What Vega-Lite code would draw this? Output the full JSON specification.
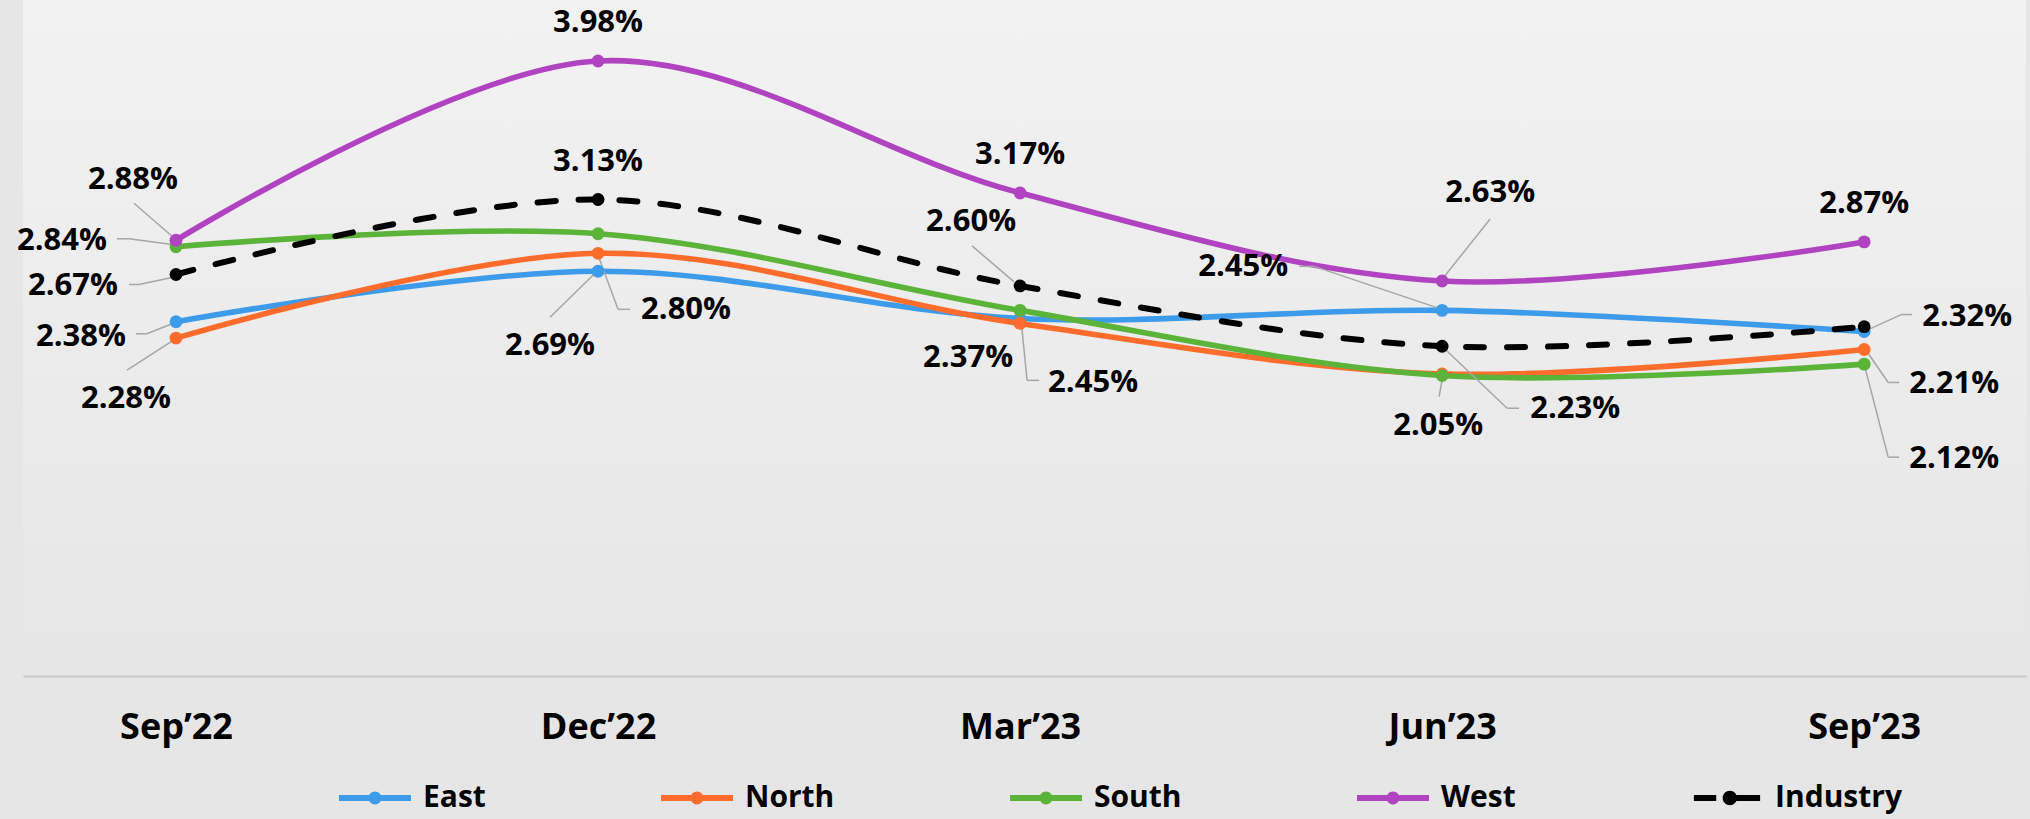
{
 "$schema": "https://vega.github.io/schema/vega-lite/v6.json",
 "width": 2003,
 "height": 676,
 "autosize": {"type": "none"},
 "padding": {"left": 23, "top": 0, "right": 4, "bottom": 143},
 "background": "#e6e6e6",
 "view": {"stroke": null, "fill": {"gradient": "linear", "x1": 0, "y1": 0, "x2": 0, "y2": 1, "stops": [{"offset": 0, "color": "#f2f2f2"}, {"offset": 1, "color": "#e6e6e6"}]}},
 "config": {"font": "Open Sans"},
 "data": {"values": [
  {"month": "Sep’22", "region": "East", "value": 0.0238},
  {"month": "Sep’22", "region": "North", "value": 0.0228},
  {"month": "Sep’22", "region": "South", "value": 0.0284},
  {"month": "Sep’22", "region": "West", "value": 0.0288},
  {"month": "Sep’22", "region": "Industry", "value": 0.0267},
  {"month": "Dec’22", "region": "East", "value": 0.0269},
  {"month": "Dec’22", "region": "North", "value": 0.0280},
  {"month": "Dec’22", "region": "South", "value": 0.0292},
  {"month": "Dec’22", "region": "West", "value": 0.0398},
  {"month": "Dec’22", "region": "Industry", "value": 0.0313},
  {"month": "Mar’23", "region": "East", "value": 0.0240},
  {"month": "Mar’23", "region": "North", "value": 0.0237},
  {"month": "Mar’23", "region": "South", "value": 0.0245},
  {"month": "Mar’23", "region": "West", "value": 0.0317},
  {"month": "Mar’23", "region": "Industry", "value": 0.0260},
  {"month": "Jun’23", "region": "East", "value": 0.0245},
  {"month": "Jun’23", "region": "North", "value": 0.0206},
  {"month": "Jun’23", "region": "South", "value": 0.0205},
  {"month": "Jun’23", "region": "West", "value": 0.0263},
  {"month": "Jun’23", "region": "Industry", "value": 0.0223},
  {"month": "Sep’23", "region": "East", "value": 0.0232},
  {"month": "Sep’23", "region": "North", "value": 0.0221},
  {"month": "Sep’23", "region": "South", "value": 0.0212},
  {"month": "Sep’23", "region": "West", "value": 0.0287},
  {"month": "Sep’23", "region": "Industry", "value": 0.0235}
 ]},
 "encoding": {
  "x": {"field": "month", "type": "ordinal", "sort": ["Sep’22", "Dec’22", "Mar’23", "Jun’23", "Sep’23"],
        "scale": {"type": "point", "padding": 0.373, "align": 0.486},
        "axis": {"title": null, "labelAngle": 0, "ticks": false, "grid": false, "domainColor": "#c9c9c9", "domainWidth": 2,
                 "labelFont": "Open Sans", "labelFontSize": 36, "labelFontWeight": "bold", "labelColor": "#000000", "labelPadding": 34}},
  "y": {"field": "value", "type": "quantitative", "scale": {"domain": [0.00207, 0.04354], "nice": false, "zero": false}, "axis": null}
 },
 "layer": [
  {"transform": [{"filter": "datum.region!=='Industry'"}],
   "mark": {"type": "line", "interpolate": "catmull-rom", "strokeWidth": 5.6},
   "encoding": {"order": {"value": null}, "stroke": {"field": "region", "type": "nominal",
     "scale": {"domain": ["East", "North", "South", "West"], "range": ["#3d9be9", "#ff6b2c", "#5bb339", "#b043c0"]}, "legend": null}}},
  {"transform": [{"filter": "datum.region==='Industry'"}],
   "mark": {"type": "line", "interpolate": "catmull-rom", "strokeWidth": 6, "stroke": "#000000", "strokeDash": [18, 23], "strokeCap": "round"},
   "encoding": {"order": {"value": null}}},

  {"transform": [{"filter": "datum.region==='West'&&datum.month==='Sep’22'"}], "mark": {"type": "rule", "stroke": "#a6a6a6", "strokeWidth": 1.5, "xOffset": -42, "yOffset": -37, "x2Offset": -4, "y2Offset": -4}, "encoding": {"x2": {"field": "month"}, "y2": {"field": "value"}}},
  {"transform": [{"filter": "datum.region==='South'&&datum.month==='Sep’22'"}], "mark": {"type": "rule", "stroke": "#a6a6a6", "strokeWidth": 1.5, "xOffset": -59, "yOffset": -8, "x2Offset": -47, "y2Offset": -8}, "encoding": {"x2": {"field": "month"}, "y2": {"field": "value"}}},
  {"transform": [{"filter": "datum.region==='South'&&datum.month==='Sep’22'"}], "mark": {"type": "rule", "stroke": "#a6a6a6", "strokeWidth": 1.5, "xOffset": -47, "yOffset": -8, "x2Offset": -2, "y2Offset": -2}, "encoding": {"x2": {"field": "month"}, "y2": {"field": "value"}}},
  {"transform": [{"filter": "datum.region==='Industry'&&datum.month==='Sep’22'"}], "mark": {"type": "rule", "stroke": "#a6a6a6", "strokeWidth": 1.5, "xOffset": -47, "yOffset": 10, "x2Offset": -37, "y2Offset": 10}, "encoding": {"x2": {"field": "month"}, "y2": {"field": "value"}}},
  {"transform": [{"filter": "datum.region==='Industry'&&datum.month==='Sep’22'"}], "mark": {"type": "rule", "stroke": "#a6a6a6", "strokeWidth": 1.5, "xOffset": -37, "yOffset": 10, "x2Offset": -4, "y2Offset": 3}, "encoding": {"x2": {"field": "month"}, "y2": {"field": "value"}}},
  {"transform": [{"filter": "datum.region==='East'&&datum.month==='Sep’22'"}], "mark": {"type": "rule", "stroke": "#a6a6a6", "strokeWidth": 1.5, "xOffset": -40, "yOffset": 12, "x2Offset": -29, "y2Offset": 12}, "encoding": {"x2": {"field": "month"}, "y2": {"field": "value"}}},
  {"transform": [{"filter": "datum.region==='East'&&datum.month==='Sep’22'"}], "mark": {"type": "rule", "stroke": "#a6a6a6", "strokeWidth": 1.5, "xOffset": -29, "yOffset": 12, "x2Offset": -4, "y2Offset": 2}, "encoding": {"x2": {"field": "month"}, "y2": {"field": "value"}}},
  {"transform": [{"filter": "datum.region==='North'&&datum.month==='Sep’22'"}], "mark": {"type": "rule", "stroke": "#a6a6a6", "strokeWidth": 1.5, "xOffset": -49, "yOffset": 32, "x2Offset": -4, "y2Offset": 3}, "encoding": {"x2": {"field": "month"}, "y2": {"field": "value"}}},
  {"transform": [{"filter": "datum.region==='North'&&datum.month==='Dec’22'"}], "mark": {"type": "rule", "stroke": "#a6a6a6", "strokeWidth": 1.5, "xOffset": 0, "yOffset": 2, "x2Offset": 20, "y2Offset": 56}, "encoding": {"x2": {"field": "month"}, "y2": {"field": "value"}}},
  {"transform": [{"filter": "datum.region==='North'&&datum.month==='Dec’22'"}], "mark": {"type": "rule", "stroke": "#a6a6a6", "strokeWidth": 1.5, "xOffset": 20, "yOffset": 56, "x2Offset": 32, "y2Offset": 56}, "encoding": {"x2": {"field": "month"}, "y2": {"field": "value"}}},
  {"transform": [{"filter": "datum.region==='East'&&datum.month==='Dec’22'"}], "mark": {"type": "rule", "stroke": "#a6a6a6", "strokeWidth": 1.5, "xOffset": -48, "yOffset": 46, "x2Offset": -2, "y2Offset": 1}, "encoding": {"x2": {"field": "month"}, "y2": {"field": "value"}}},
  {"transform": [{"filter": "datum.region==='Industry'&&datum.month==='Mar’23'"}], "mark": {"type": "rule", "stroke": "#a6a6a6", "strokeWidth": 1.5, "xOffset": -48, "yOffset": -40, "x2Offset": -6, "y2Offset": -4}, "encoding": {"x2": {"field": "month"}, "y2": {"field": "value"}}},
  {"transform": [{"filter": "datum.region==='South'&&datum.month==='Mar’23'"}], "mark": {"type": "rule", "stroke": "#a6a6a6", "strokeWidth": 1.5, "xOffset": 0, "yOffset": 0, "x2Offset": 7, "y2Offset": 70}, "encoding": {"x2": {"field": "month"}, "y2": {"field": "value"}}},
  {"transform": [{"filter": "datum.region==='South'&&datum.month==='Mar’23'"}], "mark": {"type": "rule", "stroke": "#a6a6a6", "strokeWidth": 1.5, "xOffset": 7, "yOffset": 70, "x2Offset": 19, "y2Offset": 70}, "encoding": {"x2": {"field": "month"}, "y2": {"field": "value"}}},
  {"transform": [{"filter": "datum.region==='West'&&datum.month==='Jun’23'"}], "mark": {"type": "rule", "stroke": "#a6a6a6", "strokeWidth": 1.5, "xOffset": 48, "yOffset": -62, "x2Offset": 1, "y2Offset": -3}, "encoding": {"x2": {"field": "month"}, "y2": {"field": "value"}}},
  {"transform": [{"filter": "datum.region==='East'&&datum.month==='Jun’23'"}], "mark": {"type": "rule", "stroke": "#a6a6a6", "strokeWidth": 1.5, "xOffset": -143, "yOffset": -44, "x2Offset": -128, "y2Offset": -44}, "encoding": {"x2": {"field": "month"}, "y2": {"field": "value"}}},
  {"transform": [{"filter": "datum.region==='East'&&datum.month==='Jun’23'"}], "mark": {"type": "rule", "stroke": "#a6a6a6", "strokeWidth": 1.5, "xOffset": -128, "yOffset": -44, "x2Offset": -3, "y2Offset": -2}, "encoding": {"x2": {"field": "month"}, "y2": {"field": "value"}}},
  {"transform": [{"filter": "datum.region==='Industry'&&datum.month==='Jun’23'"}], "mark": {"type": "rule", "stroke": "#a6a6a6", "strokeWidth": 1.5, "xOffset": 3, "yOffset": 3, "x2Offset": 65, "y2Offset": 62}, "encoding": {"x2": {"field": "month"}, "y2": {"field": "value"}}},
  {"transform": [{"filter": "datum.region==='Industry'&&datum.month==='Jun’23'"}], "mark": {"type": "rule", "stroke": "#a6a6a6", "strokeWidth": 1.5, "xOffset": 65, "yOffset": 62, "x2Offset": 77, "y2Offset": 62}, "encoding": {"x2": {"field": "month"}, "y2": {"field": "value"}}},
  {"transform": [{"filter": "datum.region==='South'&&datum.month==='Jun’23'"}], "mark": {"type": "rule", "stroke": "#a6a6a6", "strokeWidth": 1.5, "xOffset": 0, "yOffset": 4, "x2Offset": -3, "y2Offset": 21}, "encoding": {"x2": {"field": "month"}, "y2": {"field": "value"}}},
  {"transform": [{"filter": "datum.region==='East'&&datum.month==='Sep’23'"}], "mark": {"type": "rule", "stroke": "#a6a6a6", "strokeWidth": 1.5, "xOffset": 2, "yOffset": -1, "x2Offset": 37, "y2Offset": -17}, "encoding": {"x2": {"field": "month"}, "y2": {"field": "value"}}},
  {"transform": [{"filter": "datum.region==='East'&&datum.month==='Sep’23'"}], "mark": {"type": "rule", "stroke": "#a6a6a6", "strokeWidth": 1.5, "xOffset": 37, "yOffset": -17, "x2Offset": 48, "y2Offset": -17}, "encoding": {"x2": {"field": "month"}, "y2": {"field": "value"}}},
  {"transform": [{"filter": "datum.region==='North'&&datum.month==='Sep’23'"}], "mark": {"type": "rule", "stroke": "#a6a6a6", "strokeWidth": 1.5, "xOffset": 2, "yOffset": 1, "x2Offset": 24, "y2Offset": 33}, "encoding": {"x2": {"field": "month"}, "y2": {"field": "value"}}},
  {"transform": [{"filter": "datum.region==='North'&&datum.month==='Sep’23'"}], "mark": {"type": "rule", "stroke": "#a6a6a6", "strokeWidth": 1.5, "xOffset": 24, "yOffset": 33, "x2Offset": 35, "y2Offset": 33}, "encoding": {"x2": {"field": "month"}, "y2": {"field": "value"}}},
  {"transform": [{"filter": "datum.region==='South'&&datum.month==='Sep’23'"}], "mark": {"type": "rule", "stroke": "#a6a6a6", "strokeWidth": 1.5, "xOffset": 1, "yOffset": 4, "x2Offset": 24, "y2Offset": 93}, "encoding": {"x2": {"field": "month"}, "y2": {"field": "value"}}},
  {"transform": [{"filter": "datum.region==='South'&&datum.month==='Sep’23'"}], "mark": {"type": "rule", "stroke": "#a6a6a6", "strokeWidth": 1.5, "xOffset": 24, "yOffset": 93, "x2Offset": 35, "y2Offset": 93}, "encoding": {"x2": {"field": "month"}, "y2": {"field": "value"}}},

  {"mark": {"type": "point", "filled": true, "opacity": 1, "size": 165, "strokeWidth": 0},
   "encoding": {"fill": {"field": "region", "type": "nominal",
     "scale": {"domain": ["East", "North", "South", "West", "Industry"], "range": ["#3d9be9", "#ff6b2c", "#5bb339", "#b043c0", "#000000"]},
     "legend": {"orient": "none", "legendX": 316, "legendY": 762, "direction": "horizontal", "title": null, "padding": 0,
       "symbolSize": 5184, "symbolOpacity": 1, "symbolStrokeWidth": 0,
       "labelFont": "Open Sans", "labelFontSize": 30, "labelFontWeight": "bold", "labelColor": "#000000", "labelOffset": 12, "labelBaseline": "middle",
       "columnPadding": 175,
       "encode": {"symbols": {"update": {"shape": {"signal": "datum.value === 'Industry' ? 'M-0.92,-0.085L-0.3,-0.085L-0.3,0.085L-0.92,0.085ZM0.1,-0.085L0.92,-0.085L0.92,0.085L0.1,0.085ZM0.28,0A0.2,0.2,0,1,1,-0.12,0A0.2,0.2,0,1,1,0.28,0Z' : 'M-1,-0.08L1,-0.08L1,0.08L-1,0.08ZM0.18,0A0.18,0.18,0,1,1,-0.18,0A0.18,0.18,0,1,1,0.18,0Z'"}}}}}}}},

  {"transform": [{"filter": "datum.region==='West'&&datum.month==='Sep’22'"}], "mark": {"type": "text", "dx": -43, "dy": -60, "fontSize": 31, "fontWeight": "bold", "font": "Open Sans", "fill": "#000000", "baseline": "middle", "align": "center"}, "encoding": {"text": {"field": "value", "format": ".2%"}}},
  {"transform": [{"filter": "datum.region==='South'&&datum.month==='Sep’22'"}], "mark": {"type": "text", "dx": -114, "dy": -6, "fontSize": 31, "fontWeight": "bold", "font": "Open Sans", "fill": "#000000", "baseline": "middle", "align": "center"}, "encoding": {"text": {"field": "value", "format": ".2%"}}},
  {"transform": [{"filter": "datum.region==='Industry'&&datum.month==='Sep’22'"}], "mark": {"type": "text", "dx": -103, "dy": 11, "fontSize": 31, "fontWeight": "bold", "font": "Open Sans", "fill": "#000000", "baseline": "middle", "align": "center"}, "encoding": {"text": {"field": "value", "format": ".2%"}}},
  {"transform": [{"filter": "datum.region==='East'&&datum.month==='Sep’22'"}], "mark": {"type": "text", "dx": -95, "dy": 15, "fontSize": 31, "fontWeight": "bold", "font": "Open Sans", "fill": "#000000", "baseline": "middle", "align": "center"}, "encoding": {"text": {"field": "value", "format": ".2%"}}},
  {"transform": [{"filter": "datum.region==='North'&&datum.month==='Sep’22'"}], "mark": {"type": "text", "dx": -50, "dy": 61, "fontSize": 31, "fontWeight": "bold", "font": "Open Sans", "fill": "#000000", "baseline": "middle", "align": "center"}, "encoding": {"text": {"field": "value", "format": ".2%"}}},
  {"transform": [{"filter": "(datum.region==='West'&&(datum.month==='Dec’22'||datum.month==='Mar’23'||datum.month==='Sep’23'))||(datum.region==='Industry'&&datum.month==='Dec’22')"}], "mark": {"type": "text", "dx": 0, "dy": -38, "fontSize": 31, "fontWeight": "bold", "font": "Open Sans", "fill": "#000000", "baseline": "middle", "align": "center"}, "encoding": {"text": {"field": "value", "format": ".2%"}}},
  {"transform": [{"filter": "datum.region==='North'&&datum.month==='Dec’22'"}], "mark": {"type": "text", "dx": 88, "dy": 57, "fontSize": 31, "fontWeight": "bold", "font": "Open Sans", "fill": "#000000", "baseline": "middle", "align": "center"}, "encoding": {"text": {"field": "value", "format": ".2%"}}},
  {"transform": [{"filter": "datum.region==='East'&&datum.month==='Dec’22'"}], "mark": {"type": "text", "dx": -48, "dy": 75, "fontSize": 31, "fontWeight": "bold", "font": "Open Sans", "fill": "#000000", "baseline": "middle", "align": "center"}, "encoding": {"text": {"field": "value", "format": ".2%"}}},
  {"transform": [{"filter": "datum.region==='Industry'&&datum.month==='Mar’23'"}], "mark": {"type": "text", "dx": -49, "dy": -64, "fontSize": 31, "fontWeight": "bold", "font": "Open Sans", "fill": "#000000", "baseline": "middle", "align": "center"}, "encoding": {"text": {"field": "value", "format": ".2%"}}},
  {"transform": [{"filter": "datum.region==='North'&&datum.month==='Mar’23'"}], "mark": {"type": "text", "dx": -52, "dy": 35, "fontSize": 31, "fontWeight": "bold", "font": "Open Sans", "fill": "#000000", "baseline": "middle", "align": "center"}, "encoding": {"text": {"field": "value", "format": ".2%"}}},
  {"transform": [{"filter": "datum.region==='South'&&datum.month==='Mar’23'"}], "mark": {"type": "text", "dx": 73, "dy": 73, "fontSize": 31, "fontWeight": "bold", "font": "Open Sans", "fill": "#000000", "baseline": "middle", "align": "center"}, "encoding": {"text": {"field": "value", "format": ".2%"}}},
  {"transform": [{"filter": "datum.region==='West'&&datum.month==='Jun’23'"}], "mark": {"type": "text", "dx": 48, "dy": -88, "fontSize": 31, "fontWeight": "bold", "font": "Open Sans", "fill": "#000000", "baseline": "middle", "align": "center"}, "encoding": {"text": {"field": "value", "format": ".2%"}}},
  {"transform": [{"filter": "datum.region==='East'&&datum.month==='Jun’23'"}], "mark": {"type": "text", "dx": -199, "dy": -43, "fontSize": 31, "fontWeight": "bold", "font": "Open Sans", "fill": "#000000", "baseline": "middle", "align": "center"}, "encoding": {"text": {"field": "value", "format": ".2%"}}},
  {"transform": [{"filter": "datum.region==='Industry'&&datum.month==='Jun’23'"}], "mark": {"type": "text", "dx": 133, "dy": 63, "fontSize": 31, "fontWeight": "bold", "font": "Open Sans", "fill": "#000000", "baseline": "middle", "align": "center"}, "encoding": {"text": {"field": "value", "format": ".2%"}}},
  {"transform": [{"filter": "datum.region==='South'&&datum.month==='Jun’23'"}], "mark": {"type": "text", "dx": -4, "dy": 50, "fontSize": 31, "fontWeight": "bold", "font": "Open Sans", "fill": "#000000", "baseline": "middle", "align": "center"}, "encoding": {"text": {"field": "value", "format": ".2%"}}},
  {"transform": [{"filter": "datum.region==='East'&&datum.month==='Sep’23'"}], "mark": {"type": "text", "dx": 103, "dy": -15, "fontSize": 31, "fontWeight": "bold", "font": "Open Sans", "fill": "#000000", "baseline": "middle", "align": "center"}, "encoding": {"text": {"field": "value", "format": ".2%"}}},
  {"transform": [{"filter": "datum.region==='North'&&datum.month==='Sep’23'"}], "mark": {"type": "text", "dx": 90, "dy": 35, "fontSize": 31, "fontWeight": "bold", "font": "Open Sans", "fill": "#000000", "baseline": "middle", "align": "center"}, "encoding": {"text": {"field": "value", "format": ".2%"}}},
  {"transform": [{"filter": "datum.region==='South'&&datum.month==='Sep’23'"}], "mark": {"type": "text", "dx": 90, "dy": 95, "fontSize": 31, "fontWeight": "bold", "font": "Open Sans", "fill": "#000000", "baseline": "middle", "align": "center"}, "encoding": {"text": {"field": "value", "format": ".2%"}}}
 ]
}
